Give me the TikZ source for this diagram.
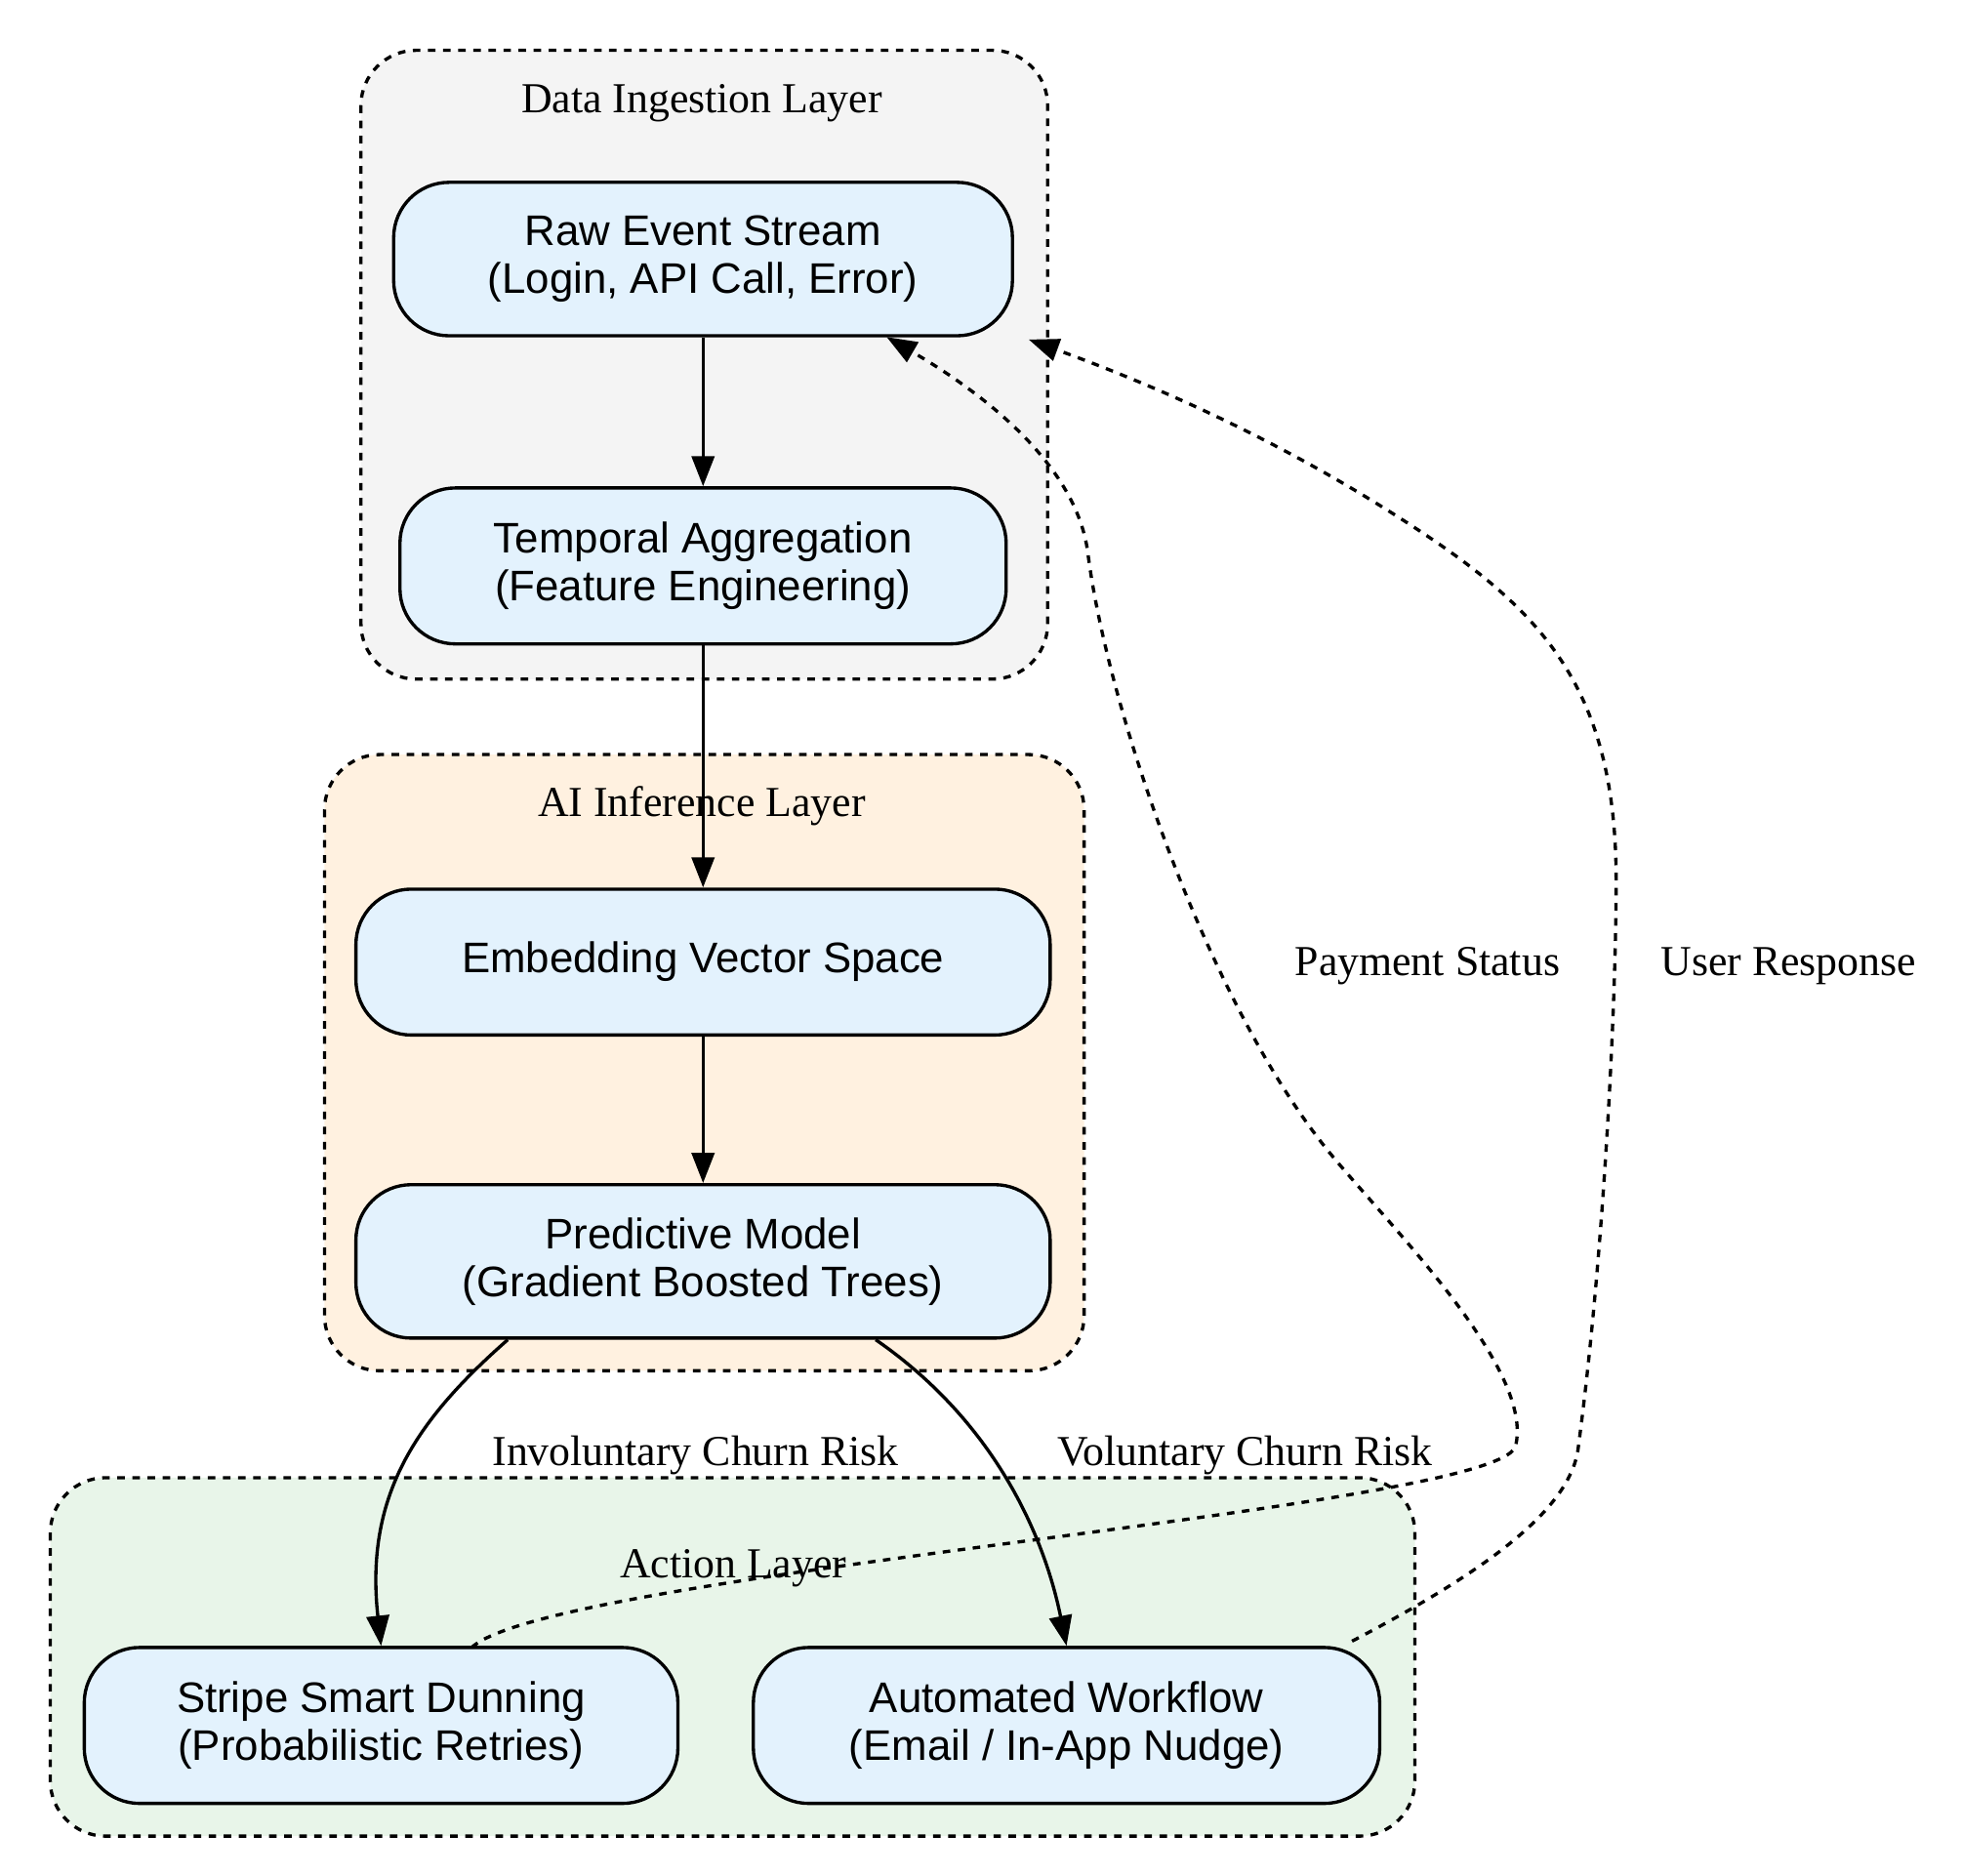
\documentclass[tikz,border=0pt]{standalone}
\usepackage{fontspec}
\setmainfont{Liberation Serif}
\newfontfamily\nodefont{Liberation Sans}
\usetikzlibrary{arrows.meta}
\definecolor{nodeblue}{RGB}{227,242,253}
\definecolor{clgray}{RGB}{244,244,244}
\definecolor{clorange}{RGB}{255,241,224}
\definecolor{clgreen}{RGB}{232,245,233}
\tikzset{
  every picture/.style={line width=1.3pt},
  box/.style={draw,rounded corners=22pt,fill=nodeblue,align=center,font=\nodefont\fontsize{17}{19}\selectfont,inner sep=0pt},
  cluster/.style={draw,dashed,rounded corners=22pt},
  lbl/.style={font=\fontsize{17}{19}\selectfont},
  flow/.style={-{Triangle[length=12pt,width=9pt]}},
  back/.style={flow,dashed}
}
\begin{document}
\begin{tikzpicture}[x=0.5pt,y=0.5pt,yscale=-1,xscale=1]
\useasboundingbox (0,0) rectangle (1560,1491);

%clusters
\draw[cluster,fill=clgray] (287,40) rectangle (833,540);
\node[lbl] (cl1) at (558,82) {Data Ingestion Layer};
\draw[cluster,fill=clorange] (258,600) rectangle (862,1090);
\node[lbl] (cl2) at (558,641) {AI Inference Layer};
\draw[cluster,fill=clgreen] (40,1175) rectangle (1125,1460);
\node[lbl] (cl3) at (583,1247) {Action Layer};

%nodes
\node[box,minimum width=246pt,minimum height=61pt] (raw) at (559,206) {Raw Event Stream\\(Login, API Call, Error)};
\node[box,minimum width=241pt,minimum height=62pt] (temp) at (559,450) {Temporal Aggregation\\(Feature Engineering)};
\node[box,minimum width=276pt,minimum height=58pt] (emb) at (559,765) {Embedding Vector Space};
\node[box,minimum width=276pt,minimum height=61pt] (pred) at (559,1003) {Predictive Model\\(Gradient Boosted Trees)};
\node[box,minimum width=236pt,minimum height=62pt] (dun) at (303,1372) {Stripe Smart Dunning\\(Probabilistic Retries)};
\node[box,minimum width=249pt,minimum height=62pt] (wf) at (848,1372) {Automated Workflow\\(Email / In-App Nudge)};

%edges
\draw[flow] (raw) -- (temp);
\draw[flow] (temp) -- (emb);
\draw[flow] (emb) -- (pred);
\draw[flow] (pred.south west) ++(122,0) .. controls (330,1130) and (290,1190) .. (dun.north);
\node[lbl] (l1) at (553,1157) {Involuntary Churn Risk};
\draw[flow] (pred.south east) ++(-140,0) .. controls (790,1130) and (830,1220) .. (wf.north);
\node[lbl] (l2) at (990,1157) {Voluntary Churn Risk};

%feedback
\draw[back] (375,1310) .. controls (440,1250) and (1190,1200) .. (1205,1150)
  .. controls (1220,1090) and (1110,980) .. (1060,920)
  .. controls (960,800) and (880,560) .. (865,440)
  .. controls (855,360) and (760,300) .. (705,268);
\node[lbl] (l3) at (1135,768) {Payment Status};
\draw[back] (1075,1305) .. controls (1180,1250) and (1250,1200) .. (1255,1150)
  .. controls (1275,1000) and (1285,800) .. (1285,700)
  .. controls (1285,540) and (1220,480) .. (1110,410)
  .. controls (1000,340) and (900,300) .. (818,270);
\node[lbl] (l4) at (1422,768) {User Response};
\end{tikzpicture}
\end{document}
